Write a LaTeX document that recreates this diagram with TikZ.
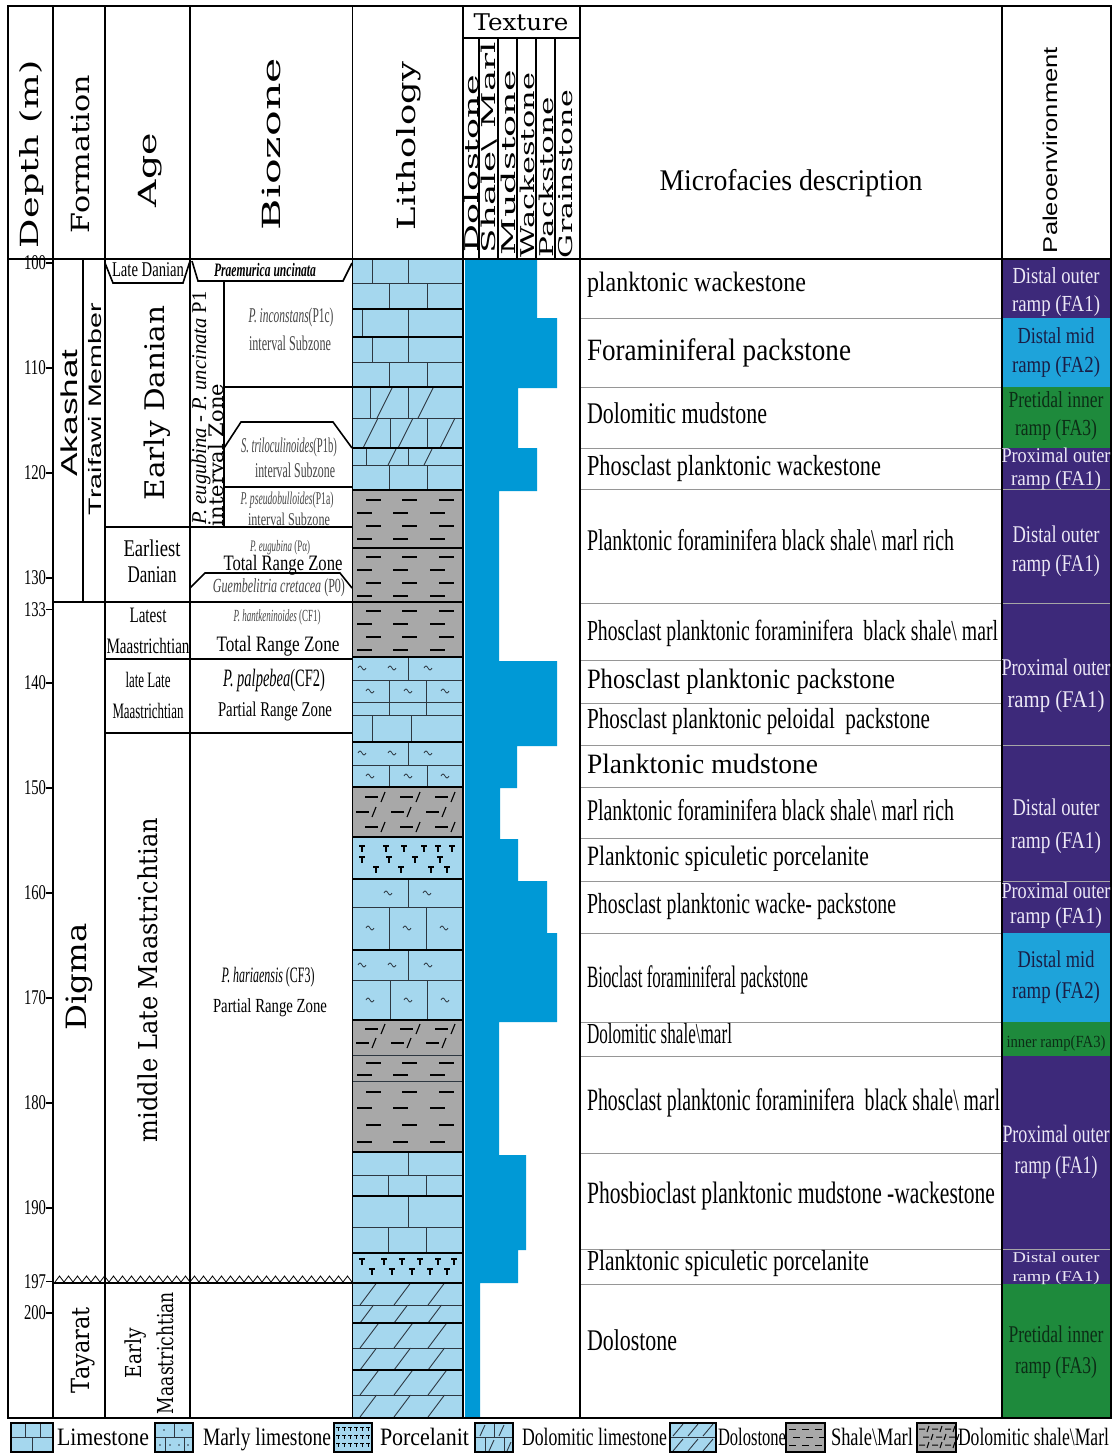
\documentclass[tikz,border=0pt]{standalone}
\usepackage{fontspec}
\usepackage{graphicx}
\newfontfamily\tnr{Liberation Serif}
\newfontfamily\arl{Liberation Sans}
\newfontfamily\dvs{DejaVu Serif}
\definecolor{litho}{RGB}{165,215,238}
\definecolor{shalec}{RGB}{168,168,168}
\definecolor{texb}{RGB}{0,153,214}
\definecolor{purp}{RGB}{61,41,122}
\definecolor{pblue}{RGB}{30,163,218}
\definecolor{pgreen}{RGB}{30,138,60}
\definecolor{ptext}{RGB}{236,232,246}
\definecolor{darkt}{RGB}{25,30,70}
\definecolor{greent}{RGB}{12,45,22}
\definecolor{sepg}{RGB}{150,150,150}
\definecolor{lline}{RGB}{45,55,65}
\definecolor{bzt}{RGB}{70,70,70}
\tikzset{
 frame/.style={line width=1.5pt,black},
 colline/.style={line width=1.6pt,black},
 thinl/.style={line width=0.9pt,lline},
 thickl/.style={line width=2.6pt,black},
 sepl/.style={line width=1pt,sepg},
 dashl/.style={line width=1.7pt,black},
 sym/.style={line width=1.1pt,black},
 txt/.style={inner sep=0pt,outer sep=0pt},
}
\newcommand\fw[3]{\resizebox{#1pt}{\height}{\fontsize{#2}{#2}\selectfont #3}}
\newcounter{tn}
\newcommand\tnode[3][]{\stepcounter{tn}\node[txt,#1] (n\arabic{tn}) at (#2) {#3};}
\newcommand\vrow[3]{\foreach \xx in {#3}{\draw[thinl] (\xx,#1) -- (\xx,#2);}}
\newcommand\tld[2]{\draw[line width=0.8pt,lline] ({#1-4},#2) sin ({#1-2},{#2-2}) cos (#1,#2) sin ({#1+2},{#2+2}) cos ({#1+4},#2);}
\newcommand\tlds[2]{\foreach \xx in {#2}{\tld{\xx}{#1}}}
\newcommand\slsh[4]{\foreach \xx in {#4}{\draw[thinl] (\xx,#2) -- ({\xx+#3*(#2-#1)},#1);}}
\newcommand\shl[1]{\foreach \yy [count=\k] in {#1}{\pgfmathsetmacro\off{mod(\k,2)*9}\foreach \xx in {357,393,430}{\draw[dashl] ({\xx+\off},\yy) -- ({\xx+\off+15},\yy);}}}
\newcommand\dshl[1]{\foreach \yy [count=\k] in {#1}{\pgfmathsetmacro\off{mod(\k,2)*9}\foreach \xx in {356,391,426}{\draw[dashl] ({\xx+\off},\yy) -- ({\xx+\off+13},\yy); \draw[sym] ({\xx+\off+16},{\yy+5}) -- ({\xx+\off+20},{\yy-5});}}}
\newcommand\Tsym[2]{\draw[sym] ({#1-3},#2) -- ({#1+3},#2) (#1,#2) -- (#1,{#2+6});}
\newcommand\porc[2]{\foreach \xx in {#2}{\Tsym{\xx}{#1}}}
\begin{document}
\begin{tikzpicture}[x=1pt,y=-1pt]
\useasboundingbox (0,0) rectangle (1115,1456);
\fill[white] (0,0) rectangle (1115,1456);
% ---------- lithology fills
\fill[litho] (353,259) rectangle (462,490);
\fill[shalec] (353,490) rectangle (462,657);
\fill[litho] (353,657) rectangle (462,787);
\fill[shalec] (353,787) rectangle (462,837);
\fill[litho] (353,837) rectangle (462,1020);
\fill[shalec] (353,1020) rectangle (462,1152);
\fill[litho] (353,1152) rectangle (462,1417);
\vrow{259}{283}{372,408}
\vrow{283}{309}{389,427}
\vrow{309}{337}{362,408}
\vrow{337}{362}{372,408}
\vrow{362}{387}{389,427}
\vrow{387}{418}{370,408}
\vrow{418}{448}{390,427}
\vrow{448}{465}{366,408}
\vrow{465}{490}{389,427}
\vrow{657}{680}{408}
\vrow{680}{702}{389,426}
\vrow{702}{715}{389,426}
\vrow{715}{742}{372,411}
\vrow{742}{765}{408}
\vrow{765}{787}{389,427}
\vrow{879}{907}{408}
\vrow{907}{950}{389,426}
\vrow{950}{980}{408}
\vrow{980}{1020}{390,427}
\vrow{1152}{1175}{408}
\vrow{1175}{1196}{388,426}
\vrow{1196}{1227}{408}
\vrow{1227}{1253}{388,426}
\foreach \yy in {283,362,418,465,680,702,715,765,907,980,1055,1081,1175,1227,1305,1348,1395}{\draw[thinl] (353,\yy) -- (462,\yy);}
\slsh{387}{418}{0.5}{377,418}
\slsh{418}{448}{0.5}{363,398,440}
\slsh{449}{465}{0.5}{388,424}
\foreach \ya/\yb in {1283/1305,1305/1323,1323/1348,1348/1370,1370/1395,1395/1417}{\slsh{\ya}{\yb}{0.75}{360,394,428}}
\tlds{668}{362,392,428}
\tlds{691}{370,408,445}
\tlds{753}{362,392,428}
\tlds{776}{370,408,445}
\tlds{893}{388,427}
\tlds{928}{370,407,444}
\tlds{965}{362,392,428}
\tlds{1000}{370,408,445}
\shl{500,513,526,539}
\shl{557,570,583,596}
\shl{611,624,637,650}
\shl{1063,1075}
\shl{1092,1108,1125,1142}
\dshl{797,812,827}
\dshl{1029,1043}
\porc{846}{362,386,404,424,438,452}
\porc{857}{362,389,415,440}
\porc{867}{376,401,431,447}
\porc{1259}{362,384,402,420,438,454}
\porc{1269}{372,392,412,430,447}
\foreach \yy in {309,337,387,448,490,548,602,657,742,787,837,879,950,1020,1152,1196,1253,1283,1323,1370}{\draw[thickl] (353,\yy) -- (462,\yy);}
% ---------- texture curve
\fill[texb] (465,259) -- (537,259) -- (537,318) -- (557,318) -- (557,388) -- (518,388) -- (518,448) -- (537,448) -- (537,491) -- (499,491) -- (499,661) -- (557,661) -- (557,746) -- (517,746) -- (517,788) -- (500,788) -- (500,839) -- (518,839) -- (518,881) -- (547,881) -- (547,933) -- (557,933) -- (557,1022) -- (499,1022) -- (499,1155) -- (526,1155) -- (526,1250) -- (518,1250) -- (518,1283) -- (480,1283) -- (480,1417) -- (465,1417) -- cycle;
% ---------- paleoenvironment fills
\fill[purp] (1002,259) rectangle (1111,318);
\fill[pblue] (1002,318) rectangle (1111,387);
\fill[pgreen] (1002,387) rectangle (1111,448);
\fill[purp] (1002,448) rectangle (1111,933);
\fill[pblue] (1002,933) rectangle (1111,1022);
\fill[pgreen] (1002,1022) rectangle (1111,1056);
\fill[purp] (1002,1056) rectangle (1111,1284);
\fill[pgreen] (1002,1284) rectangle (1111,1417);
\foreach \yy in {489,603,745,881,1249}{\draw[line width=0.8pt,gray!70] (1002,\yy) -- (1111,\yy);}
% ---------- microfacies separators
\foreach \yy in {318,387,448,489,603,660,703,745,787,838,881,933,1022,1056,1153,1249,1284}{\draw[sepl] (580,\yy) -- (1002,\yy);}
% ---------- frame and columns
\draw[frame] (8,6) rectangle (1111,1418);
\draw[line width=2pt] (8,259) -- (1111,259);
\foreach \xx in {53,105,190,352.5,463,580,1002}{\draw[colline] (\xx,6) -- (\xx,1418);}
\draw[colline] (463,38) -- (580,38);
\foreach \xx in {479,498,517,536,555}{\draw[line width=1.2pt] (\xx,38) -- (\xx,259);}
% formation / age / biozone lines
\draw[colline] (83,259) -- (83,602);
\draw[colline] (53,602) -- (352,602);
\draw[colline] (105,263) -- (113,283) -- (183,283) -- (190,261);
\draw[colline] (192,261) -- (198,281) -- (343,281) -- (352,263);
\draw[colline] (224,282) -- (224,527);
\draw[colline] (224,387) -- (352,387);
\draw[colline] (224,448) -- (241,422) -- (333,422) -- (352,448);
\draw[colline] (224,487) -- (352,487);
\draw[colline] (105,527) -- (352,527);
\draw[colline] (190,588) -- (205,573) -- (340,573) -- (352,588);
\draw[colline] (105,659) -- (352,659);
\draw[colline] (105,733) -- (352,733);
\draw[colline] (53,1283) -- (352,1283);
\foreach \i in {0,...,32}{\draw[line width=0.8pt] ({55+9*\i},1282) -- ({59.5+9*\i},1276) -- ({64+9*\i},1282);}
% ---------- depth scale
\foreach \d in {100,110,120,130,133,140,150,160,170,180,190,197,200}{
  \pgfmathsetmacro\yy{263+10.5*(\d-100)}
  \draw[colline] (46,\yy) -- (53,\yy);
  \tnode[anchor=east]{46,\yy}{\tnr\fw{22}{21}{\d}}
}
% ---------- header texts
\tnode[rotate=90]{32,154}{\dvs\fw{188}{25}{Depth (m)}}
\tnode[rotate=90]{80,154}{\dvs\fw{158}{25}{Formation}}
\tnode[rotate=90]{150,170}{\dvs\fw{74}{25}{Age}}
\tnode[rotate=90]{271,144}{\dvs\fw{172}{25}{Biozone}}
\tnode[rotate=90]{409,146}{\dvs\fw{168}{25}{Lithology}}
\tnode{521,22}{\dvs\fw{95}{23}{Texture}}
\tnode[rotate=90,anchor=west]{471,252}{\dvs\fw{177}{19}{Dolostone}}
\tnode[rotate=90,anchor=west]{489,253}{\dvs\fw{211}{19}{Shale\textbackslash{} Marl}}
\tnode[rotate=90,anchor=west]{508,255}{\dvs\fw{185}{19}{Mudstone}}
\tnode[rotate=90,anchor=west]{527,257}{\dvs\fw{184}{19}{Wackestone}}
\tnode[rotate=90,anchor=west]{546,257}{\dvs\fw{160}{19}{Packstone}}
\tnode[rotate=90,anchor=west]{566,258}{\dvs\fw{168}{19}{Grainstone}}
\tnode[anchor=base]{791,190}{\tnr\fw{263}{30}{Microfacies description}}
\tnode[rotate=90,anchor=mid west]{1055,253}{\arl\fw{206}{20}{Paleoenvironment}}
% ---------- formation texts
\tnode[rotate=90]{69,413}{\arl\fw{127}{23}{Akashat}}
\tnode[rotate=90]{95,409}{\arl\fw{212}{18}{Traifawi Member}}
\tnode[rotate=90]{79,977}{\dvs\fw{107}{28}{Digma}}
\tnode[rotate=90]{83,1350}{\dvs\fw{86}{25}{Tayarat}}
% ---------- age texts
\tnode{148,270}{\tnr\fw{72}{21}{Late Danian}}
\tnode[rotate=90]{157,403}{\dvs\fw{195}{27}{Early Danian}}
\tnode{152,548}{\tnr\fw{57}{24}{Earliest}}
\tnode{152,575}{\tnr\fw{49}{24}{Danian}}
\tnode{148,615}{\tnr\fw{37}{22}{Latest}}
\tnode{148,646}{\tnr\fw{83}{22}{Maastrichtian}}
\tnode{148,680}{\tnr\fw{45}{22}{late Late}}
\tnode{148,711}{\tnr\fw{71}{22}{Maastrichtian}}
\tnode[rotate=90]{148,980}{\dvs\fw{324}{26}{middle Late Maastrichtian}}
\tnode[rotate=90]{136,1353}{\dvs\fw{50}{22}{Early}}
\tnode[rotate=90]{165,1353}{\dvs\fw{122}{22}{Maastrichtian}}
% ---------- biozone texts
\tnode{265,270}{\tnr\fw{102}{19}{\bfseries\itshape Praemurica uncinata}}
\tnode[rotate=90]{201,408}{\tnr\fw{233}{21}{\textit{P. eugubina} - \textit{P. uncinata} P1}}
\tnode[rotate=90]{216,455}{\dvs\fw{142}{20}{interval Zone}}
\tnode{291,317}{\color{bzt}\tnr\fw{85}{21}{\textit{P. inconstans}(P1c)}}
\tnode{290,343}{\color{bzt}\tnr\fw{82}{21}{interval Subzone}}
\tnode{289,447}{\color{bzt}\tnr\fw{96}{21}{\textit{S. triloculinoides}(P1b)}}
\tnode{295,470}{\color{bzt}\tnr\fw{80}{21}{interval Subzone}}
\tnode{287,500}{\color{bzt}\tnr\fw{93}{18}{\textit{P. pseudobulloides}(P1a)}}
\tnode{289,519}{\color{bzt}\tnr\fw{82}{18}{interval Subzone}}
\tnode{280,548}{\color{bzt}\tnr\fw{60}{16}{\textit{P. eugubina} (Pα)}}
\tnode{283,565}{\tnr\fw{119}{22}{Total Range Zone}}
\tnode{279,588}{\color{bzt}\tnr\fw{132}{20}{\textit{Guembelitria cretacea} (P0)}}
\tnode{277,617}{\color{bzt}\tnr\fw{87}{17}{\textit{P. hantkeninoides} (CF1)}}
\tnode{278,646}{\tnr\fw{123}{22}{Total Range Zone}}
\tnode{274,680}{\tnr\fw{102}{25}{\textit{P. palpebea}(CF2)}}
\tnode{275,711}{\tnr\fw{114}{21}{Partial Range Zone}}
\tnode{268,977}{\tnr\fw{93}{22}{\textit{P. hariaensis} (CF3)}}
\tnode{270,1008}{\tnr\fw{114}{20}{Partial Range Zone}}
% ---------- microfacies texts
\foreach \yy/\ww/\fs/\tt in {
 289/219/28/{planktonic wackestone},
 358/264/31/{Foraminiferal packstone},
 421/180/30/{Dolomitic mudstone},
 473/294/29/{Phosclast planktonic wackestone},
 548/367/30/{Planktonic foraminifera black shale\textbackslash{} marl rich},
 638/411/29/{Phosclast planktonic foraminifera \ black shale\textbackslash{} marl},
 686/308/28/{Phosclast planktonic packstone},
 726/343/29/{Phosclast planktonic peloidal \ packstone},
 771/231/28/{Planktonic mudstone},
 818/367/30/{Planktonic foraminifera black shale\textbackslash{} marl rich},
 863/282/28/{Planktonic spiculetic porcelanite},
 911/309/29/{Phosclast planktonic wacke- packstone},
 985/221/31/{Bioclast foraminiferal packstone},
 1041/145/29/{Dolomitic shale\textbackslash marl},
 1108/413/31/{Phosclast planktonic foraminifera \ black shale\textbackslash{} marl},
 1201/408/31/{Phosbioclast planktonic mudstone -wackestone},
 1268/282/29/{Planktonic spiculetic porcelanite},
 1348/90/30/{Dolostone}}{
 \tnode[anchor=mid west]{587,\yy}{\tnr\fw{\ww}{\fs}{\tt}}
}
% ---------- paleoenvironment texts
\foreach \yy/\ww/\fs/\cc/\tt in {
 283/87/23/ptext/{Distal outer}, 311/88/23/ptext/{ramp (FA1)},
 343/77/23/darkt/{Distal mid}, 372/88/23/darkt/{ramp (FA2)},
 407/95/23/greent/{Pretidal inner}, 435/82/23/greent/{ramp (FA3)},
 462/109/21/ptext/{Proximal outer}, 485/90/21/ptext/{ramp (FA1)},
 542/87/24/ptext/{Distal outer}, 571/88/24/ptext/{ramp (FA1)},
 675/109/24/ptext/{Proximal outer}, 707/97/24/ptext/{ramp (FA1)},
 815/87/24/ptext/{Distal outer}, 848/90/24/ptext/{ramp (FA1)},
 898/109/23/ptext/{Proximal outer}, 923/92/23/ptext/{ramp (FA1)},
 967/77/24/darkt/{Distal mid}, 998/88/24/darkt/{ramp (FA2)},
 1047/99/17/greent/{inner ramp(FA3)},
 1142/107/25/ptext/{Proximal outer}, 1173/83/25/ptext/{ramp (FA1)},
 1262/87/15/ptext/{Distal outer}, 1281/87/15/ptext/{ramp (FA1)},
 1342/95/24/greent/{Pretidal inner}, 1373/82/24/greent/{ramp (FA3)}}{
 \tnode[anchor=base]{1056,\yy}{\color{\cc}\tnr\fw{\ww}{\fs}{\tt}}
}
% ---------- legend
\fill[litho] (11,1423) rectangle (53,1452);
\draw[thinl] (11,1437.5) -- (53,1437.5) (25,1423) -- (25,1437.5) (40,1423) -- (40,1437.5) (32,1437.5) -- (32,1452);
\draw[line width=1.2pt] (11,1423) rectangle (53,1452);
\fill[litho] (155,1423) rectangle (193,1452);
\draw[thinl] (155,1437.5) -- (193,1437.5) (174,1423) -- (174,1437.5) (165,1437.5) -- (165,1452) (184,1437.5) -- (184,1452);
\foreach \a/\b in {164/1430,182/1430,160/1445,170/1445,179/1445,188/1445}{\fill[lline] (\a,\b) circle (0.9);}
\draw[line width=1.2pt] (155,1423) rectangle (193,1452);
\fill[litho] (334,1423) rectangle (372,1452);
\foreach \yy in {1427,1435,1443}{\foreach \xx in {338,344,350,356,362,368}{\draw[line width=0.7pt] ({\xx-2},\yy) -- ({\xx+2},\yy) (\xx,\yy) -- (\xx,{\yy+4});}}
\draw[line width=1.2pt] (334,1423) rectangle (372,1452);
\fill[litho] (475,1423) rectangle (513,1452);
\draw[thinl] (475,1437.5) -- (513,1437.5) (494,1423) -- (494,1437.5) (485,1437.5) -- (485,1452) (504,1437.5) -- (504,1452);
\draw[thinl] (480,1436) -- (485,1425) (499,1436) -- (504,1425) (489,1451) -- (494,1440) (507,1451) -- (511,1442);
\draw[line width=1.2pt] (475,1423) rectangle (513,1452);
\fill[litho] (670,1423) rectangle (716,1452);
\draw[thinl] (670,1437.5) -- (716,1437.5);
\foreach \xx in {673,688,703}{\draw[thinl] (\xx,1436) -- ({\xx+10},1424) (\xx,1451) -- ({\xx+10},1439);}
\draw[line width=1.2pt] (670,1423) rectangle (716,1452);
\fill[shalec] (786,1423) rectangle (825,1452);
\foreach \yy/\o in {1429/0,1437/4,1445/0}{\foreach \xx in {789,802,815}{\draw[line width=1pt] ({\xx+\o},\yy) -- ({\xx+\o+7},\yy);}}
\draw[line width=1.2pt] (786,1423) rectangle (825,1452);
\fill[shalec] (917,1423) rectangle (956,1452);
\foreach \yy/\o in {1429/0,1437/4,1445/0}{\foreach \xx in {919,932,945}{\draw[line width=1pt] ({\xx+\o},\yy) -- ({\xx+\o+6},\yy) ({\xx+\o+8},{\yy+3}) -- ({\xx+\o+10},{\yy-3});}}
\draw[line width=1.2pt] (917,1423) rectangle (956,1452);
\foreach \xx/\ww/\tt in {57/92/{Limestone},203/128/{Marly limestone},380/89/{Porcelanit},522/145/{Dolomitic limestone},718/68/{Dolostone},831/82/{Shale\textbackslash Marl},958/151/{Dolomitic shale\textbackslash Marl}}{
 \tnode[anchor=mid west]{\xx,1443}{\tnr\fw{\ww}{25}{\tt}}
}
\end{tikzpicture}
\end{document}
